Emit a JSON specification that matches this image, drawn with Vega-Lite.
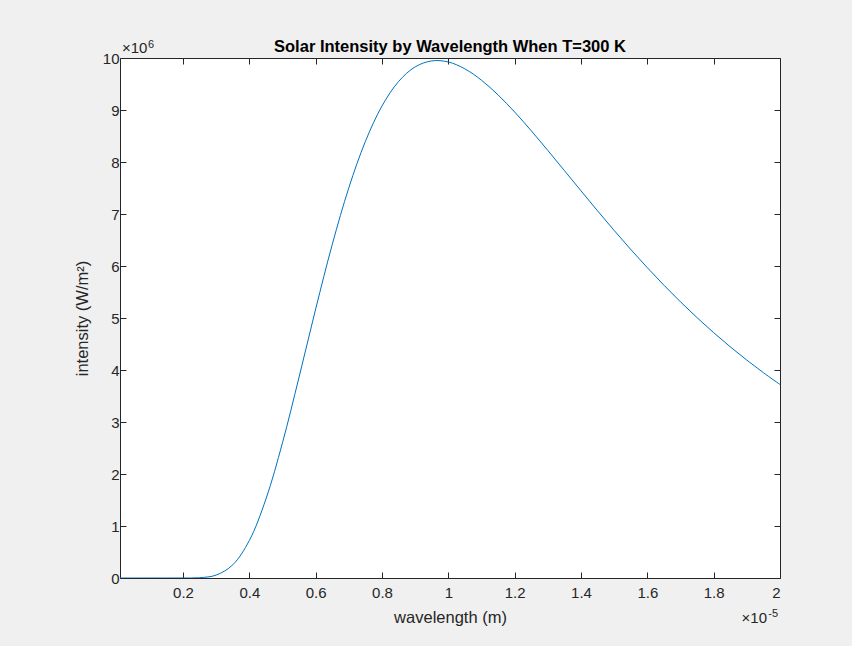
{
  "$schema": "https://vega.github.io/schema/vega-lite/v6.json",
  "width": 660,
  "height": 520,
  "autosize": {"type": "none"},
  "padding": {"left": 120, "top": 58, "right": 72, "bottom": 68},
  "background": "#f0f0f0",
  "title": {
    "text": "Solar Intensity by Wavelength When T=300 K",
    "font": "Liberation Sans",
    "fontSize": 16.5,
    "fontWeight": "bold",
    "color": "#000000",
    "anchor": "middle",
    "offset": -16
  },
  "config": {
    "view": {"fill": "#ffffff", "stroke": null},
    "axis": {
      "domainColor": "#262626",
      "domainWidth": 1,
      "tickColor": "#262626",
      "tickSize": -6,
      "grid": false,
      "labelFont": "Liberation Sans",
      "labelFontSize": 15,
      "labelColor": "#262626",
      "titleFont": "Liberation Sans",
      "titleFontSize": 16.5,
      "titleFontWeight": "normal",
      "titleColor": "#262626",
      "labelPadding": 7
    }
  },
  "resolve": {"axis": {"x": "independent", "y": "independent"}},
  "layer": [
    {
      "data": {
        "values": [
          {"wl": 0.01, "intensity": 0},
          {"wl": 0.05, "intensity": 0},
          {"wl": 0.1, "intensity": 0},
          {"wl": 0.15, "intensity": 0.0000002},
          {"wl": 0.2, "intensity": 0.00014},
          {"wl": 0.25, "intensity": 0.0057},
          {"wl": 0.3, "intensity": 0.0559},
          {"wl": 0.35, "intensity": 0.2538},
          {"wl": 0.4, "intensity": 0.7218},
          {"wl": 0.45, "intensity": 1.5179},
          {"wl": 0.5, "intensity": 2.6023},
          {"wl": 0.55, "intensity": 3.8649},
          {"wl": 0.6, "intensity": 5.1744},
          {"wl": 0.65, "intensity": 6.4152},
          {"wl": 0.7, "intensity": 7.5053},
          {"wl": 0.75, "intensity": 8.3977},
          {"wl": 0.8, "intensity": 9.0774},
          {"wl": 0.85, "intensity": 9.5482},
          {"wl": 0.9, "intensity": 9.8294},
          {"wl": 0.95, "intensity": 9.9446},
          {"wl": 1.0, "intensity": 9.9233},
          {"wl": 1.05, "intensity": 9.7907},
          {"wl": 1.1, "intensity": 9.5726},
          {"wl": 1.15, "intensity": 9.2897},
          {"wl": 1.2, "intensity": 8.9607},
          {"wl": 1.25, "intensity": 8.6009},
          {"wl": 1.3, "intensity": 8.2222},
          {"wl": 1.35, "intensity": 7.8343},
          {"wl": 1.4, "intensity": 7.4454},
          {"wl": 1.45, "intensity": 7.0601},
          {"wl": 1.5, "intensity": 6.6837},
          {"wl": 1.55, "intensity": 6.3185},
          {"wl": 1.6, "intensity": 5.9672},
          {"wl": 1.65, "intensity": 5.6309},
          {"wl": 1.7, "intensity": 5.3103},
          {"wl": 1.75, "intensity": 5.0061},
          {"wl": 1.8, "intensity": 4.7181},
          {"wl": 1.85, "intensity": 4.446},
          {"wl": 1.9, "intensity": 4.1897},
          {"wl": 1.95, "intensity": 3.9483},
          {"wl": 2.0, "intensity": 3.7215}
        ]
      },
      "layer": [
        {
          "mark": {"type": "line", "color": "#0072BD", "strokeWidth": 1, "interpolate": "catmull-rom", "clip": true},
          "encoding": {
            "x": {
              "field": "wl", "type": "quantitative",
              "scale": {"domain": [0.01, 2], "nice": false, "zero": false},
              "axis": {"orient": "bottom", "values": [0.2, 0.4, 0.6, 0.8, 1, 1.2, 1.4, 1.6, 1.8, 2], "format": ".2~f", "title": "wavelength (m)", "labelPadding": 13, "titlePadding": 9}
            },
            "y": {
              "field": "intensity", "type": "quantitative",
              "scale": {"domain": [0, 10], "nice": false},
              "axis": {"orient": "left", "values": [0, 1, 2, 3, 4, 5, 6, 7, 8, 9, 10], "title": "intensity (W/m²)", "titlePadding": 12}
            }
          }
        },
        {
          "mark": {"type": "point", "opacity": 0},
          "encoding": {
            "x": {
              "field": "wl", "type": "quantitative",
              "axis": {"orient": "top", "values": [0.2, 0.4, 0.6, 0.8, 1, 1.2, 1.4, 1.6, 1.8, 2], "labels": false, "title": null}
            },
            "y": {
              "field": "intensity", "type": "quantitative",
              "axis": {"orient": "right", "values": [0, 1, 2, 3, 4, 5, 6, 7, 8, 9, 10], "labels": false, "title": null}
            }
          }
        }
      ]
    },
    {
      "data": {"values": [{"wl": 0.01, "intensity": 10, "t": "×10"}]},
      "mark": {"type": "text", "align": "left", "baseline": "alphabetic", "dx": 2, "dy": -5, "fontSize": 15, "font": "Liberation Sans", "color": "#262626"},
      "encoding": {
        "x": {"field": "wl", "type": "quantitative", "axis": null},
        "y": {"field": "intensity", "type": "quantitative", "axis": null},
        "text": {"field": "t"}
      }
    },
    {
      "data": {"values": [{"wl": 0.01, "intensity": 10, "t": "6"}]},
      "mark": {"type": "text", "align": "left", "baseline": "alphabetic", "dx": 28, "dy": -10, "fontSize": 11, "font": "Liberation Sans", "color": "#262626"},
      "encoding": {
        "x": {"field": "wl", "type": "quantitative", "axis": null},
        "y": {"field": "intensity", "type": "quantitative", "axis": null},
        "text": {"field": "t"}
      }
    },
    {
      "data": {"values": [{"wl": 2, "intensity": 0, "t": "×10"}]},
      "mark": {"type": "text", "align": "right", "baseline": "alphabetic", "dx": -13, "dy": 45, "fontSize": 15, "font": "Liberation Sans", "color": "#262626"},
      "encoding": {
        "x": {"field": "wl", "type": "quantitative", "axis": null},
        "y": {"field": "intensity", "type": "quantitative", "axis": null},
        "text": {"field": "t"}
      }
    },
    {
      "data": {"values": [{"wl": 2, "intensity": 0, "t": "-5"}]},
      "mark": {"type": "text", "align": "right", "baseline": "alphabetic", "dx": -2, "dy": 39, "fontSize": 11, "font": "Liberation Sans", "color": "#262626"},
      "encoding": {
        "x": {"field": "wl", "type": "quantitative", "axis": null},
        "y": {"field": "intensity", "type": "quantitative", "axis": null},
        "text": {"field": "t"}
      }
    }
  ]
}
